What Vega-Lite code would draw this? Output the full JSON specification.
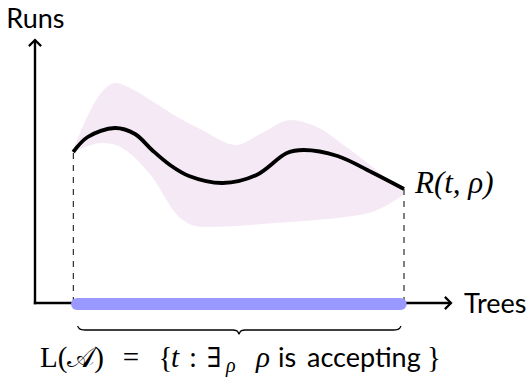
{
  "$schema": "https://vega.github.io/schema/vega-lite/v6.json",
  "width": 529,
  "height": 378,
  "autosize": {"type": "fit", "contains": "padding"},
  "padding": 0,
  "background": "white",
  "config": {"view": {"stroke": null}},
  "encoding": {
    "x": {"field": "x", "type": "quantitative", "axis": null, "scale": {"domain": [-35, 494], "nice": false, "zero": false}},
    "y": {"field": "y", "type": "quantitative", "axis": null, "scale": {"domain": [-75, 303], "nice": false, "zero": false}}
  },
  "layer": [
    {
      "data": {"values": [
        {"x": 38.2, "y": 151, "y2": 153},
        {"x": 53, "y": 157, "y2": 188},
        {"x": 66, "y": 160, "y2": 210},
        {"x": 81, "y": 158, "y2": 220},
        {"x": 93, "y": 151, "y2": 216},
        {"x": 117, "y": 126, "y2": 202},
        {"x": 144, "y": 86, "y2": 185},
        {"x": 167, "y": 76, "y2": 173},
        {"x": 201, "y": 77, "y2": 158},
        {"x": 227, "y": 79, "y2": 170},
        {"x": 255, "y": 81, "y2": 183},
        {"x": 282, "y": 83, "y2": 176},
        {"x": 310, "y": 86, "y2": 157},
        {"x": 340, "y": 92, "y2": 134},
        {"x": 368.3, "y": 108, "y2": 111}
      ]},
      "mark": {"type": "area", "interpolate": "monotone", "color": "#f4e9f4"},
      "encoding": {"y2": {"field": "y2"}}
    },
    {
      "data": {"values": [
        {"x": 38.3, "y": 0, "y2": 151},
        {"x": 369, "y": 0, "y2": 114}
      ]},
      "mark": {"type": "rule", "color": "black", "strokeWidth": 1, "strokeDash": [6, 6]},
      "encoding": {"y2": {"field": "y2"}}
    },
    {
      "data": {"values": [
        {"g": "v", "x": 0, "y": 0},
        {"g": "v", "x": 0, "y": 262},
        {"g": "h", "x": 0, "y": 0},
        {"g": "h", "x": 415, "y": 0}
      ]},
      "mark": {"type": "line", "color": "black", "strokeWidth": 2.4, "strokeCap": "square"},
      "encoding": {"detail": {"field": "g"}}
    },
    {
      "data": {"values": [
        {"x": 42, "y": -1},
        {"x": 365.7, "y": -1}
      ]},
      "mark": {"type": "line", "color": "#9999ff", "strokeWidth": 12, "strokeCap": "round"}
    },
    {
      "data": {"values": [
        {"x": 38.2, "y": 151},
        {"x": 52.7, "y": 166},
        {"x": 79.7, "y": 175},
        {"x": 100, "y": 169},
        {"x": 117, "y": 153},
        {"x": 135, "y": 138},
        {"x": 154, "y": 127},
        {"x": 187.7, "y": 120},
        {"x": 221.5, "y": 128},
        {"x": 251.9, "y": 150},
        {"x": 268.7, "y": 153},
        {"x": 302.5, "y": 147},
        {"x": 336.2, "y": 131},
        {"x": 369, "y": 114}
      ]},
      "mark": {"type": "line", "interpolate": "catmull-rom", "color": "black", "strokeWidth": 3.8, "strokeCap": "butt"}
    },
    {
      "data": {"values": [
        {"x": 0, "y": 263, "a": 0},
        {"x": 416, "y": 0, "a": 90}
      ]},
      "mark": {"type": "point", "shape": "M-1,1L0,0L1,1", "filled": false, "stroke": "black", "strokeWidth": 2.2, "size": 150, "opacity": 1, "strokeJoin": "miter"},
      "encoding": {"angle": {"field": "a", "type": "quantitative", "scale": null}}
    },
    {
      "data": {"values": [
        {"x": 42.6, "y": -23},
        {"x": 44, "y": -25.3},
        {"x": 46.5, "y": -26.6},
        {"x": 50, "y": -27},
        {"x": 198, "y": -27},
        {"x": 201.5, "y": -27.6},
        {"x": 203, "y": -29.2},
        {"x": 204, "y": -31},
        {"x": 205, "y": -29.2},
        {"x": 206.5, "y": -27.6},
        {"x": 210, "y": -27},
        {"x": 358.6, "y": -27},
        {"x": 362.1, "y": -26.6},
        {"x": 364.6, "y": -25.3},
        {"x": 366, "y": -23}
      ]},
      "mark": {"type": "line", "interpolate": "monotone", "color": "black", "strokeWidth": 1.3}
    },
    {
      "data": {"values": [
        {"x": 0.4, "y": 275, "t": "Runs"}
      ]},
      "mark": {"type": "text", "font": "Lato", "fontSize": 27, "align": "center", "baseline": "alphabetic", "color": "black"},
      "encoding": {"text": {"field": "t"}}
    },
    {
      "data": {"values": [
        {"x": 429, "y": -10, "t": "Trees"},
        {"x": 243, "y": -63.5, "t": "is"},
        {"x": 272, "y": -63.5, "t": "accepting"}
      ]},
      "mark": {"type": "text", "font": "Lato", "fontSize": 27, "align": "left", "baseline": "alphabetic", "color": "black"},
      "encoding": {"text": {"field": "t"}}
    },
    {
      "data": {"values": [
        {"x": 380, "y": 110, "t": "R(t, ρ)"}
      ]},
      "mark": {"type": "text", "font": "Liberation Serif", "fontSize": 31, "fontStyle": "italic", "align": "left", "baseline": "alphabetic", "color": "black"},
      "encoding": {"text": {"field": "t"}}
    },
    {
      "data": {"values": [
        {"x": 136, "y": -63.5, "t": "t"},
        {"x": 221, "y": -63.5, "t": "ρ"}
      ]},
      "mark": {"type": "text", "font": "Liberation Serif", "fontSize": 29, "fontStyle": "italic", "align": "left", "baseline": "alphabetic", "color": "black"},
      "encoding": {"text": {"field": "t"}}
    },
    {
      "data": {"values": [
        {"x": 191, "y": -69, "t": "ρ"}
      ]},
      "mark": {"type": "text", "font": "Liberation Serif", "fontSize": 20, "fontStyle": "italic", "align": "left", "baseline": "alphabetic", "color": "black"},
      "encoding": {"text": {"field": "t"}}
    },
    {
      "data": {"values": [
        {"x": 172, "y": -63.5, "t": "∃"}
      ]},
      "mark": {"type": "text", "font": "DejaVu Serif", "fontSize": 27, "align": "left", "baseline": "alphabetic", "color": "black"},
      "encoding": {"text": {"field": "t"}}
    },
    {
      "data": {"values": [
        {"x": 5, "y": -63.5, "t": "L(𝒜)"},
        {"x": 123.5, "y": -63.5, "t": "{"},
        {"x": 154, "y": -63.5, "t": ":"},
        {"x": 392, "y": -63.5, "t": "}"}
      ]},
      "mark": {"type": "text", "font": "Liberation Serif", "fontSize": 29, "align": "left", "baseline": "alphabetic", "color": "black"},
      "encoding": {"text": {"field": "t"}}
    },
    {
      "data": {"values": [
        {"x": 96, "y": -63.5, "t": "="}
      ]},
      "mark": {"type": "text", "font": "Liberation Serif", "fontSize": 29, "align": "center", "baseline": "alphabetic", "color": "black"},
      "encoding": {"text": {"field": "t"}}
    }
  ]
}
